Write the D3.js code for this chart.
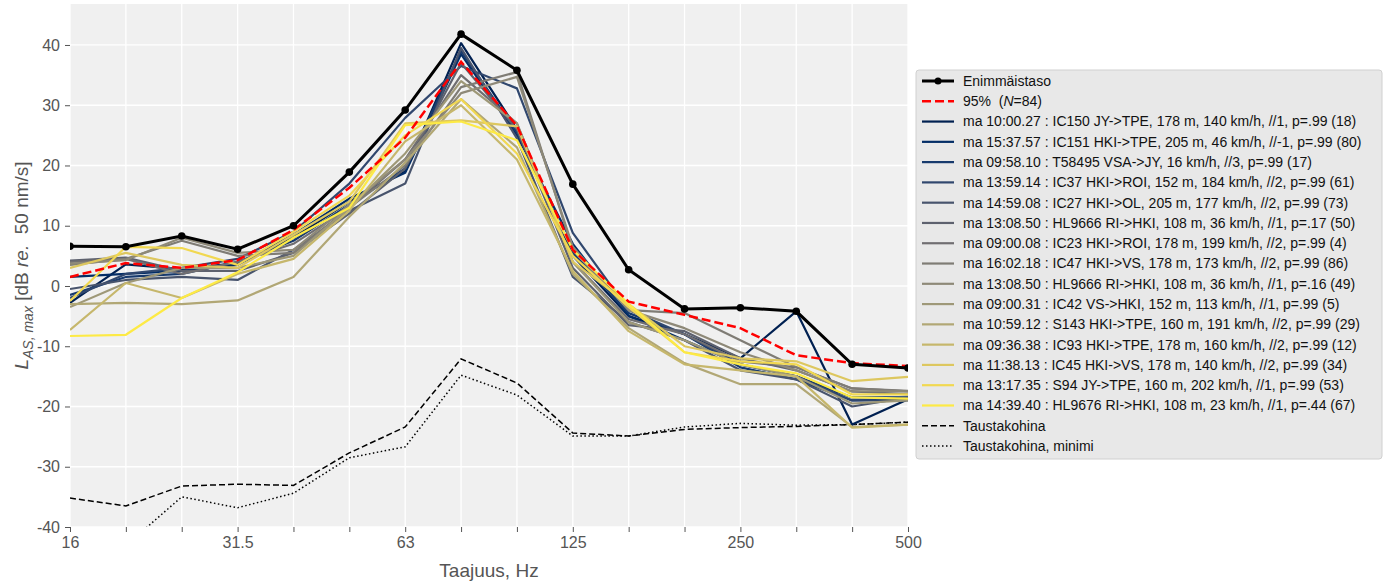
<!DOCTYPE html>
<html>
<head>
<meta charset="utf-8">
<script src="https://cdn.jsdelivr.net/npm/d3@7"></script>
<style>
  body { margin: 0; background: #fff; }
  text { font-family: "Liberation Sans", Arial, sans-serif; white-space: pre; }
</style>
</head>
<body>
<div id="chart"></div>
<script>
// third-octave bands
const bands = ["16", "20", "25", "31.5", "40", "50", "63", "80", "100", "125", "160", "200", "250", "315", "400", "500"];
const tickLabels = ["16", "31.5", "63", "125", "250", "500"];
const yTicks = [-40, -30, -20, -10, 0, 10, 20, 30, 40];

const maxLevel = [6.6, 6.5, 8.3, 6.1, 10.0, 18.9, 29.2, 41.8, 35.8, 16.9, 2.7, -3.8, -3.6, -4.2, -13.0, -13.6];
const p95 = [1.5, 3.8, 3.0, 4.3, 9.3, 16.3, 24.6, 37.2, 26.6, 6.0, -2.6, -4.8, -7.0, -11.5, -12.8, -13.3];
const background = [-35.2, -36.5, -33.2, -32.9, -33.1, -27.7, -23.4, -12.1, -16.1, -24.4, -24.9, -23.8, -23.5, -23.3, -23.0, -22.6];
const backgroundMin = [-45, -43.1, -35.0, -36.8, -34.4, -28.5, -26.7, -14.8, -18.1, -24.9, -24.9, -23.4, -22.8, -23.1, -23.0, -22.6];

const trainLabels = [
  "ma 10:00.27 : IC150 JY->TPE, 178 m, 140 km/h, //1, p=.99 (18)",
  "ma 15:37.57 : IC151 HKI->TPE, 205 m, 46 km/h, //-1, p=.99 (80)",
  "ma 09:58.10 : T58495 VSA->JY, 16 km/h, //3, p=.99 (17)",
  "ma 13:59.14 : IC37 HKI->ROI, 152 m, 184 km/h, //2, p=.99 (61)",
  "ma 14:59.08 : IC27 HKI->OL, 205 m, 177 km/h, //2, p=.99 (73)",
  "ma 13:08.50 : HL9666 RI->HKI, 108 m, 36 km/h, //1, p=.17 (50)",
  "ma 09:00.08 : IC23 HKI->ROI, 178 m, 199 km/h, //2, p=.99 (4)",
  "ma 16:02.18 : IC47 HKI->VS, 178 m, 173 km/h, //2, p=.99 (86)",
  "ma 13:08.50 : HL9666 RI->HKI, 108 m, 36 km/h, //1, p=.16 (49)",
  "ma 09:00.31 : IC42 VS->HKI, 152 m, 113 km/h, //1, p=.99 (5)",
  "ma 10:59.12 : S143 HKI->TPE, 160 m, 191 km/h, //2, p=.99 (29)",
  "ma 09:36.38 : IC93 HKI->TPE, 178 m, 160 km/h, //2, p=.99 (12)",
  "ma 11:38.13 : IC45 HKI->VS, 178 m, 140 km/h, //2, p=.99 (34)",
  "ma 13:17.35 : S94 JY->TPE, 160 m, 202 km/h, //1, p=.99 (53)",
  "ma 14:39.40 : HL9676 RI->HKI, 108 m, 23 km/h, //1, p=.44 (67)"
];

const trainValues = [
  [-2.8, 3.6, 2.8, 3.8, 8.0, 14.0, 19.0, 40.3, 26.0, 5.0, -5.0, -8.0, -12.0, -4.2, -23.0, -18.8],
  [1.5, 2.0, 2.5, 3.5, 8.5, 14.5, 18.8, 38.5, 25.0, 7.0, -5.0, -9.0, -13.0, -15.0, -18.5, -18.5],
  [-1.5, 1.5, 2.0, 4.0, 7.5, 13.5, 19.5, 39.0, 25.5, 5.5, -4.5, -8.0, -13.5, -15.5, -19.0, -18.8],
  [-2.0, 2.0, 3.0, 4.5, 9.0, 17.0, 27.9, 36.5, 32.8, 8.8, -4.0, -8.0, -13.0, -15.0, -19.0, -19.0],
  [-0.5, 1.0, 1.5, 1.0, 6.0, 12.5, 17.0, 39.5, 24.5, 1.5, -6.0, -9.0, -14.0, -15.5, -20.0, -18.5],
  [4.2, 4.7, 2.5, 2.5, 5.5, 12.0, 19.5, 37.0, 26.0, 3.0, -6.5, -7.5, -12.0, -14.0, -17.5, -18.0],
  [4.0, 4.5, 2.0, 4.0, 7.0, 13.0, 21.0, 35.0, 27.0, 4.0, -5.5, -8.0, -12.5, -13.5, -17.0, -17.5],
  [3.5, 4.5, 7.5, 5.0, 5.5, 13.0, 20.0, 33.0, 35.5, 6.0, -4.0, -4.5, -9.0, -13.5, -17.0, -17.4],
  [3.7, 4.3, 8.0, 5.5, 6.0, 13.5, 21.0, 32.0, 34.7, 6.5, -4.0, -7.0, -11.0, -14.0, -17.5, -17.5],
  [-3.5, 0.5, 3.0, 3.0, 5.0, 13.0, 22.0, 34.0, 27.0, 4.0, -6.0, -9.0, -13.0, -15.0, -19.5, -19.0],
  [-3.0, -2.8, -3.0, -2.4, 1.5, 11.5, 20.5, 31.0, 23.0, 2.0, -7.0, -12.8, -16.3, -16.3, -23.4, -23.0],
  [-7.3, 0.5, -2.0, 2.0, 4.5, 12.5, 24.0, 30.0, 21.0, 2.5, -7.5, -13.0, -14.0, -15.0, -23.5, -23.0],
  [3.0, 5.5, 3.5, 3.0, 8.5, 14.0, 27.0, 27.5, 26.5, 4.0, -3.0, -10.0, -12.0, -12.5, -15.8, -15.1],
  [-2.5, 6.5, 6.3, 3.5, 9.0, 15.0, 25.0, 31.0, 22.0, 5.0, -3.5, -11.0, -12.5, -13.0, -18.0, -18.0],
  [-8.3, -8.1, -2.0, 2.3, 8.0, 13.0, 26.7, 27.3, 24.2, 6.0, -3.0, -11.0, -13.0, -14.5, -18.5, -18.7]
];

const width = 1391, height = 585;
const plot = {left: 70, right: 908, top: 4, bottom: 527};

const svg = d3.select("#chart").append("svg")
    .attr("width", width)
    .attr("height", height);

const x = d3.scalePoint()
    .domain(bands)
    .range([plot.left, plot.right]);

const y = d3.scaleLinear()
    .domain([-40, 46.8])
    .range([plot.bottom, plot.top]);

// background + grid
svg.append("rect")
    .attr("x", plot.left).attr("y", plot.top)
    .attr("width", plot.right - plot.left)
    .attr("height", plot.bottom - plot.top)
    .attr("fill", "#f0f0f0");

svg.append("defs").append("clipPath").attr("id", "clip")
  .append("rect")
    .attr("x", plot.left).attr("y", plot.top)
    .attr("width", plot.right - plot.left)
    .attr("height", plot.bottom - plot.top);

svg.append("g").selectAll("line").data(bands).join("line")
    .attr("x1", d => x(d)).attr("x2", d => x(d))
    .attr("y1", plot.top).attr("y2", plot.bottom)
    .attr("stroke", "#fff").attr("stroke-width", 1.3);

svg.append("g").selectAll("line").data(yTicks).join("line")
    .attr("x1", plot.left).attr("x2", plot.right)
    .attr("y1", d => y(d)).attr("y2", d => y(d))
    .attr("stroke", "#fff").attr("stroke-width", 1.3);

// axes
const xAxis = svg.append("g")
    .attr("transform", `translate(0,${plot.bottom})`)
    .call(d3.axisBottom(x).tickSize(5).tickPadding(5)
      .tickFormat(d => tickLabels.includes(d) ? d : ""));
const yAxis = svg.append("g")
    .attr("transform", `translate(${plot.left},0)`)
    .call(d3.axisLeft(y).tickValues(yTicks).tickSize(5).tickPadding(5)
      .tickFormat(d => String(d)));

[xAxis, yAxis].forEach(a => {
  a.select(".domain").remove();
  a.selectAll(".tick line").attr("stroke", "#555");
  a.selectAll(".tick text")
    .attr("fill", "#555")
    .style("font-size", "16px")
    .style("font-family", "'Liberation Sans', Arial, sans-serif");
});

// lines
const line = d3.line()
    .x((d, i) => x(bands[i]))
    .y(d => y(d));

const g = svg.append("g").attr("clip-path", "url(#clip)");
const color = i => d3.interpolateCividis(i / (trainValues.length - 1));

g.append("path").datum(background)
    .attr("fill", "none").attr("stroke", "#000").attr("stroke-width", 1.5)
    .attr("stroke-dasharray", "6,3").attr("d", line);
g.append("path").datum(backgroundMin)
    .attr("fill", "none").attr("stroke", "#000").attr("stroke-width", 1.5)
    .attr("stroke-dasharray", "1.5,2.5").attr("d", line);

trainValues.forEach((vals, i) => {
  g.append("path").datum(vals)
    .attr("fill", "none").attr("stroke", color(i)).attr("stroke-width", 2.2)
    .attr("stroke-linejoin", "round")
    .attr("d", line);
});

g.append("path").datum(p95)
    .attr("fill", "none").attr("stroke", "#ff0000").attr("stroke-width", 2.5)
    .attr("stroke-dasharray", "9,4").attr("d", line);

g.append("path").datum(maxLevel)
    .attr("fill", "none").attr("stroke", "#000").attr("stroke-width", 3)
    .attr("d", line);
g.append("g").selectAll("circle").data(maxLevel).join("circle")
    .attr("cx", (d, i) => x(bands[i])).attr("cy", d => y(d))
    .attr("r", 3.8).attr("fill", "#000");

// axis labels
svg.append("text")
    .attr("x", (plot.left + plot.right) / 2).attr("y", 577)
    .attr("text-anchor", "middle")
    .attr("fill", "#555").style("font-size", "19px")
    .text("Taajuus, Hz");

const yl = svg.append("text")
    .attr("transform", `translate(28,${(plot.top + plot.bottom) / 2}) rotate(-90)`)
    .attr("text-anchor", "middle")
    .attr("fill", "#555").style("font-size", "19px");
yl.append("tspan").style("font-style", "italic").text("L");
yl.append("tspan").style("font-style", "italic").style("font-size", "14px")
    .attr("dy", 5).text("AS, max");
yl.append("tspan").attr("dy", -5).text(" [dB ");
yl.append("tspan").style("font-style", "italic").text("re.");
yl.append("tspan").text("  50 nm/s]");

// legend
const legendItems = [
  {label: "Enimmäistaso", stroke: "#000", width: 3, dash: null, marker: true},
  {label: "95%", stroke: "#ff0000", width: 2.5, dash: "9,4", n95: true},
  ...trainLabels.map((l, i) => ({label: l, stroke: color(i), width: 2.2, dash: null})),
  {label: "Taustakohina", stroke: "#000", width: 1.5, dash: "6,3"},
  {label: "Taustakohina, minimi", stroke: "#000", width: 1.5, dash: "1.5,2.5"}
];

const lg = svg.append("g").attr("transform", "translate(916,70)");
lg.append("rect")
    .attr("width", 466).attr("height", 389).attr("rx", 3)
    .attr("fill", "#e8e8e8").attr("stroke", "#d0d0d0");

const rowH = 20.28;
const rows = lg.selectAll("g.item").data(legendItems).join("g")
    .attr("class", "item")
    .attr("transform", (d, i) => `translate(0,${11 + i * rowH})`);

rows.append("line")
    .attr("x1", 6).attr("x2", 38)
    .attr("stroke", d => d.stroke).attr("stroke-width", d => d.width)
    .attr("stroke-dasharray", d => d.dash);
rows.filter(d => d.marker).append("circle")
    .attr("cx", 22).attr("r", 3.5).attr("fill", "#000");

const lt = rows.append("text")
    .attr("x", 47).attr("dy", "0.35em")
    .attr("fill", "#111").style("font-size", "14px");
lt.filter(d => !d.n95).text(d => d.label);
const n95 = lt.filter(d => d.n95);
n95.append("tspan").text("95%  (");
n95.append("tspan").style("font-style", "italic").text("N");
n95.append("tspan").text("=84)");
</script>
</body>
</html>
